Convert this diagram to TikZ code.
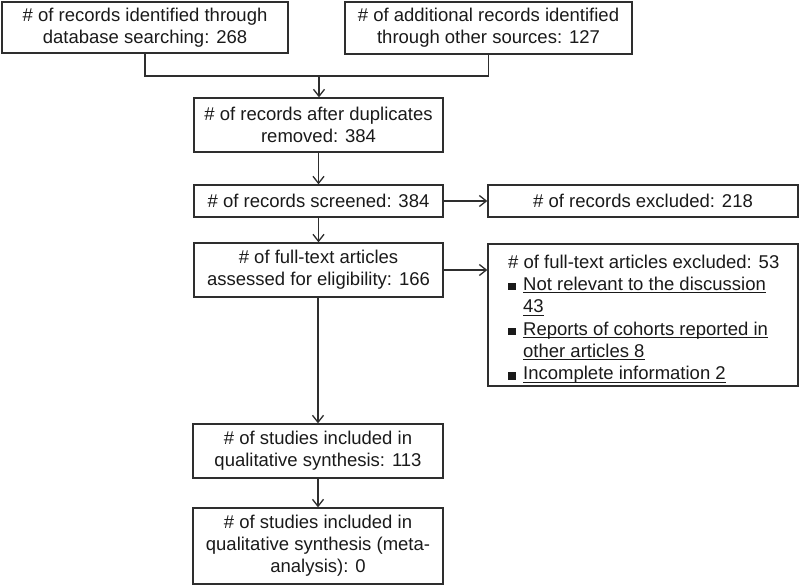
\documentclass[tikz,border=0pt]{standalone}
\usepackage{fontspec}
\setmainfont{Liberation Sans}
\usetikzlibrary{arrows.meta}
\definecolor{ln}{HTML}{2E2E2E}
\definecolor{tx}{HTML}{1A1A1A}
\newcommand\mybul{\makebox[15pt][l]{\rule{7.5pt}{7.5pt}}}
\newcommand\myul[1]{\setbox0\hbox{#1}\rlap{\rule[-3pt]{\wd0}{1pt}}\box0}
\begin{document}
\begin{tikzpicture}[x=1pt,y=-1pt,
  box/.style={draw=ln, line width=1.3pt, text=tx, align=center, inner sep=0pt,
              font=\fontsize{18.5}{22}\selectfont},
  arr/.style={draw=ln, line width=1.3pt, -{Straight Barb[length=7pt,width=11pt]}},
  conn/.style={draw=ln, line width=1.3pt}]
\useasboundingbox[fill=white] (0,0) rectangle (800,585);
\node[box, minimum width=286pt, minimum height=51pt] (b1) at (145,27.5)
  {\# of records identified through\\database searching: 268};
\node[box, minimum width=287pt, minimum height=52pt] (b2) at (488.5,28)
  {\# of additional records identified\\through other sources: 127};
\node[box, minimum width=249pt, minimum height=54pt] (b3) at (318.5,125)
  {\# of records after duplicates\\removed: 384};
\node[box, minimum width=249pt, minimum height=32pt] (scr) at (318.5,201)
  {\# of records screened: 384};
\node[box, minimum width=310pt, minimum height=32pt] (ex1) at (643,201)
  {\# of records excluded: 218};
\node[box, minimum width=249pt, minimum height=54pt] (ft) at (318.5,270)
  {\# of full-text articles\\assessed for eligibility: 166};
\node[box, minimum width=310pt, minimum height=142pt] (ex2) at (643,315) {};
\node[text=tx, align=left, inner sep=0pt, anchor=north west,
      font=\fontsize{18.5}{22.3}\selectfont] (ex2t) at (508,254.5)
  {\# of full-text articles excluded: 53\\
   \mybul\myul{Not relevant to the discussion}\\
   \hspace*{15pt}\myul{43}\\
   \mybul\myul{Reports of cohorts reported in}\\
   \hspace*{15pt}\myul{other articles 8}\\
   \mybul\myul{Incomplete information 2}};
\node[box, minimum width=250pt, minimum height=54pt] (s1) at (318,451)
  {\# of studies included in\\qualitative synthesis: 113};
\node[box, minimum width=250pt, minimum height=76pt] (s2) at (318,546)
  {\# of studies included in\\qualitative synthesis (meta-\\analysis): 0};
\coordinate (j) at (319,76);
\draw[conn] (b1.south) |- (j) -| (b2.south);
\draw[arr] (j) -- (j |- b3.north);
\draw[arr] (b3.south) -- (scr.north);
\draw[arr] (scr.east) -- (ex1.west);
\draw[arr] (scr.south) -- (ft.north);
\draw[arr] (ft.east) -- (ft.east -| ex2.west);
\draw[arr] (ft.south -| s1.north) -- (s1.north);
\draw[arr] (s1.south) -- (s2.north);
\end{tikzpicture}
\end{document}
